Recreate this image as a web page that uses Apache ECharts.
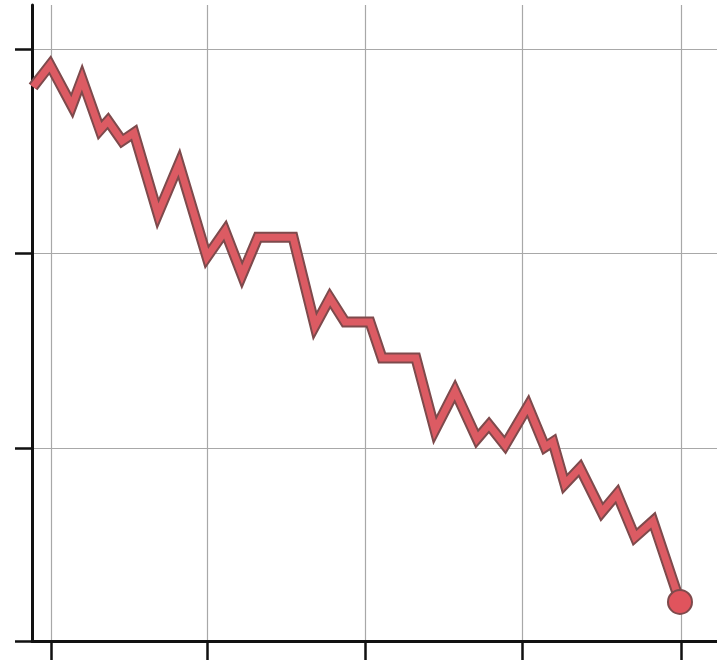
<!DOCTYPE html>
<html>
<head>
<meta charset="utf-8">
<script src="https://cdn.jsdelivr.net/npm/echarts@6/dist/echarts.min.js"></script>
<style>
html,body{margin:0;padding:0;background:#fff;}
#chart{width:717px;height:662px;}
</style>
</head>
<body>
<div id="chart"></div>
<script>
// Data (arbitrary units: x ticks near 0..40, y ticks near 0..30)
const xValues = [-1.14, -0.06, 1.33, 1.97, 3.11, 3.62, 4.51, 5.27, 6.79, 8.13,
  9.90, 11.05, 12.13, 13.14, 15.37, 16.76, 17.71, 18.67, 20.25, 21.02,
  23.17, 24.38, 25.65, 27.05, 27.81, 28.83, 30.29, 31.37, 31.87, 32.63,
  33.59, 34.98, 35.94, 37.08, 38.22, 39.94];
const yValues = [28.08, 29.19, 27.12, 28.48, 25.90, 26.36, 25.34, 25.75, 21.64, 24.18,
  19.46, 20.78, 18.55, 20.46, 20.46, 15.97, 17.38, 16.17, 16.17, 14.34,
  14.34, 10.69, 12.67, 10.24, 10.95, 9.93, 11.91, 9.83, 10.09, 7.96,
  8.77, 6.54, 7.45, 5.27, 6.08, 1.98];
// hand-drawn grid: tick positions
const xTicks = [0, 9.9, 19.94, 29.9, 40];
const yTicks = [0, 9.78, 19.67, 30];

const points = xValues.map((x, i) => [x, yValues[i]]);
const lastPoint = [points[points.length - 1]];

const chart = echarts.init(document.getElementById('chart'), null, {renderer: 'canvas'});
chart.setOption({
  animation: false,
  backgroundColor: '#ffffff',
  grid: {left: 32, right: 0, top: 5, bottom: 21, containLabel: false},
  xAxis: {
    type: 'value',
    min: -1.206,
    max: 42.29,
    axisLine: {show: true, onZero: false, lineStyle: {color: '#111', width: 3}},
    axisTick: {show: true, customValues: xTicks, inside: false, length: 19,
      lineStyle: {color: '#111', width: 2.5}},
    axisLabel: {show: false, customValues: xTicks},
    splitLine: {show: true, lineStyle: {color: '#a8a8a8', width: 1.2}}
  },
  yAxis: {
    type: 'value',
    min: 0,
    max: 32.23,
    axisLine: {show: true, onZero: false, lineStyle: {color: '#111', width: 3}},
    axisTick: {show: true, customValues: yTicks, inside: false, length: 17,
      lineStyle: {color: '#111', width: 2.5}},
    axisLabel: {show: false, customValues: yTicks},
    splitLine: {show: true, lineStyle: {color: '#a8a8a8', width: 1.2}}
  },
  series: [
    {
      type: 'line',
      data: points,
      showSymbol: false,
      symbol: 'none',
      lineStyle: {color: '#7e4a4c', width: 11, join: 'miter', miterLimit: 6},
      z: 2,
      silent: true
    },
    {
      type: 'line',
      data: points,
      showSymbol: false,
      symbol: 'none',
      lineStyle: {color: '#dc5b63', width: 7, join: 'miter', miterLimit: 6},
      z: 3,
      silent: true
    },
    {
      type: 'scatter',
      data: lastPoint,
      symbol: 'circle',
      symbolSize: 24,
      itemStyle: {color: '#e0545d', borderColor: '#7e4a4c', borderWidth: 2, opacity: 1},
      z: 4,
      silent: true
    }
  ]
});
</script>
</body>
</html>
